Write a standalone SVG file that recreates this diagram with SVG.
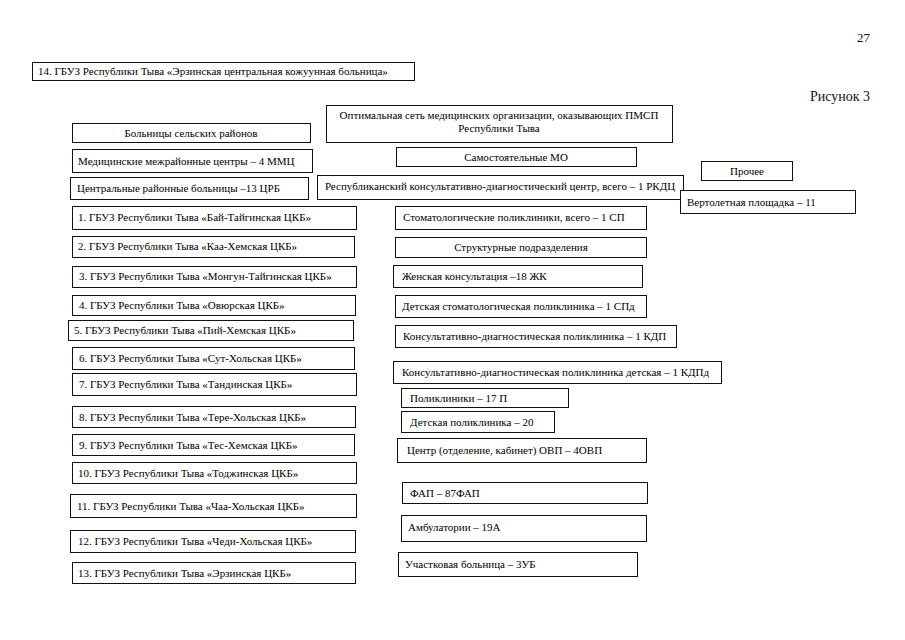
<svg xmlns="http://www.w3.org/2000/svg" width="905" height="640" viewBox="0 0 905 640">
<style>
.b{fill:#fff;stroke:#111;stroke-width:1}
.t{font-family:"Liberation Serif","Times New Roman",serif;font-size:11px;fill:#000}
.c{text-anchor:middle}
.h{font-family:"Liberation Serif","Times New Roman",serif;font-size:13px;fill:#111}
</style>
<rect width="905" height="640" fill="#fff"/>
<text class="h" x="870" y="42" text-anchor="end">27</text>
<text class="h" x="870" y="101" text-anchor="end" style="font-size:14px">Рисунок 3</text>
<g id="connectors"></g>
<g id="n14"><rect class="b" x="32.5" y="62.5" width="382" height="18"/><text class="t" x="38" y="75">14. ГБУЗ Республики Тыва «Эрзинская центральная кожуунная больница»</text></g>
<g id="opt"><rect class="b" x="326.5" y="105.5" width="346" height="37"/><text class="t c" x="499" y="119">Оптимальная сеть медицинских организации, оказывающих ПМСП</text><text class="t c" x="499" y="132">Республики Тыва</text></g>
<g id="rural"><rect class="b" x="72.5" y="123.5" width="238" height="19"/><text class="t c" x="191" y="137">Больницы сельских районов</text></g>
<g id="mmc"><rect class="b" x="72.5" y="149.5" width="240" height="23"/><text class="t" x="78" y="165">Медицинские межрайонные центры – 4 ММЦ</text></g>
<g id="samo"><rect class="b" x="396.5" y="147.5" width="240" height="19"/><text class="t c" x="516" y="161">Самостоятельные МО</text></g>
<g id="other"><rect class="b" x="701.5" y="161.5" width="91" height="19"/><text class="t c" x="747" y="175">Прочее</text></g>
<g id="crb"><rect class="b" x="70.5" y="177.5" width="238" height="22"/><text class="t" x="77" y="192">Центральные районные больницы –13 ЦРБ</text></g>
<g id="rkdc"><rect class="b" x="317.5" y="175.5" width="366" height="24"/><text class="t c" x="500" y="190">Республиканский консультативно-диагностический центр, всего – 1 РКДЦ</text></g>
<g id="heli"><rect class="b" x="680.5" y="190.5" width="175" height="23"/><text class="t" x="687" y="206">Вертолетная площадка – 11</text></g>
<g id="c1"><rect class="b" x="72.5" y="206.5" width="284" height="23"/><text class="t" x="78" y="221">1. ГБУЗ Республики Тыва «Бай-Тайгинская ЦКБ»</text></g>
<g id="sp"><rect class="b" x="395.5" y="206.5" width="251" height="23"/><text class="t" x="403" y="221">Стоматологические поликлиники, всего – 1 СП</text></g>
<g id="c2"><rect class="b" x="72.5" y="236.5" width="282" height="21"/><text class="t" x="78" y="250">2. ГБУЗ Республики Тыва «Каа-Хемская ЦКБ»</text></g>
<g id="struct"><rect class="b" x="395.5" y="237.5" width="251" height="20"/><text class="t c" x="521" y="251">Структурные подразделения</text></g>
<g id="c3"><rect class="b" x="72.5" y="266.5" width="284" height="21"/><text class="t" x="79" y="280">3. ГБУЗ Республики Тыва «Монгун-Тайгинская ЦКБ»</text></g>
<g id="zk"><rect class="b" x="393.5" y="265.5" width="249" height="22"/><text class="t" x="402" y="280">Женская консультация –18 ЖК</text></g>
<g id="c4"><rect class="b" x="72.5" y="295.5" width="283" height="20"/><text class="t" x="79" y="309">4. ГБУЗ Республики Тыва «Овюрская ЦКБ»</text></g>
<g id="spd"><rect class="b" x="395.5" y="295.5" width="251" height="22"/><text class="t" x="402" y="310">Детская стоматологическая поликлиника – 1 СПд</text></g>
<g id="c5"><rect class="b" x="68.5" y="320.5" width="285" height="20"/><text class="t" x="74" y="334">5. ГБУЗ Республики Тыва «Пий-Хемская ЦКБ»</text></g>
<g id="kdp"><rect class="b" x="395.5" y="325.5" width="281" height="22"/><text class="t" x="403" y="340">Консультативно-диагностическая поликлиника – 1 КДП</text></g>
<g id="c6"><rect class="b" x="72.5" y="347.5" width="282" height="22"/><text class="t" x="79" y="362">6. ГБУЗ Республики Тыва «Сут-Хольская ЦКБ»</text></g>
<g id="kdpd"><rect class="b" x="393.5" y="361.5" width="328" height="22"/><text class="t" x="402" y="376">Консультативно-диагностическая поликлиника детская – 1 КДПд</text></g>
<g id="c7"><rect class="b" x="72.5" y="373.5" width="284" height="22"/><text class="t" x="79" y="388">7. ГБУЗ Республики Тыва «Тандинская ЦКБ»</text></g>
<g id="p"><rect class="b" x="401.5" y="388.5" width="167" height="19"/><text class="t" x="410" y="402">Поликлиники – 17 П</text></g>
<g id="c8"><rect class="b" x="72.5" y="406.5" width="283" height="21"/><text class="t" x="79" y="421">8. ГБУЗ Республики Тыва «Тере-Хольская ЦКБ»</text></g>
<g id="dp"><rect class="b" x="401.5" y="411.5" width="153" height="21"/><text class="t" x="410" y="426">Детская поликлиника – 20</text></g>
<g id="c9"><rect class="b" x="72.5" y="434.5" width="282" height="21"/><text class="t" x="79" y="449">9. ГБУЗ Республики Тыва «Тес-Хемская ЦКБ»</text></g>
<g id="ovp"><rect class="b" x="397.5" y="438.5" width="249" height="24"/><text class="t" x="407" y="454">Центр (отделение, кабинет) ОВП – 4ОВП</text></g>
<g id="c10"><rect class="b" x="72.5" y="462.5" width="284" height="21"/><text class="t" x="78" y="477">10. ГБУЗ Республики Тыва «Тоджинская ЦКБ»</text></g>
<g id="fap"><rect class="b" x="402.5" y="482.5" width="245" height="21"/><text class="t" x="410" y="497">ФАП – 87ФАП</text></g>
<g id="c11"><rect class="b" x="70.5" y="494.5" width="286" height="23"/><text class="t" x="77" y="510">11. ГБУЗ Республики Тыва «Чаа-Хольская ЦКБ»</text></g>
<g id="amb"><rect class="b" x="401.5" y="515.5" width="245" height="26"/><text class="t" x="408" y="531">Амбулатории – 19А</text></g>
<g id="c12"><rect class="b" x="70.5" y="530.5" width="285" height="22"/><text class="t" x="78" y="545">12. ГБУЗ Республики Тыва «Чеди-Хольская ЦКБ»</text></g>
<g id="ub"><rect class="b" x="398.5" y="552.5" width="239" height="24"/><text class="t" x="405" y="568">Участковая больница – 3УБ</text></g>
<g id="c13"><rect class="b" x="72.5" y="562.5" width="283" height="21"/><text class="t" x="78" y="577">13. ГБУЗ Республики Тыва «Эрзинская ЦКБ»</text></g>
</svg>
